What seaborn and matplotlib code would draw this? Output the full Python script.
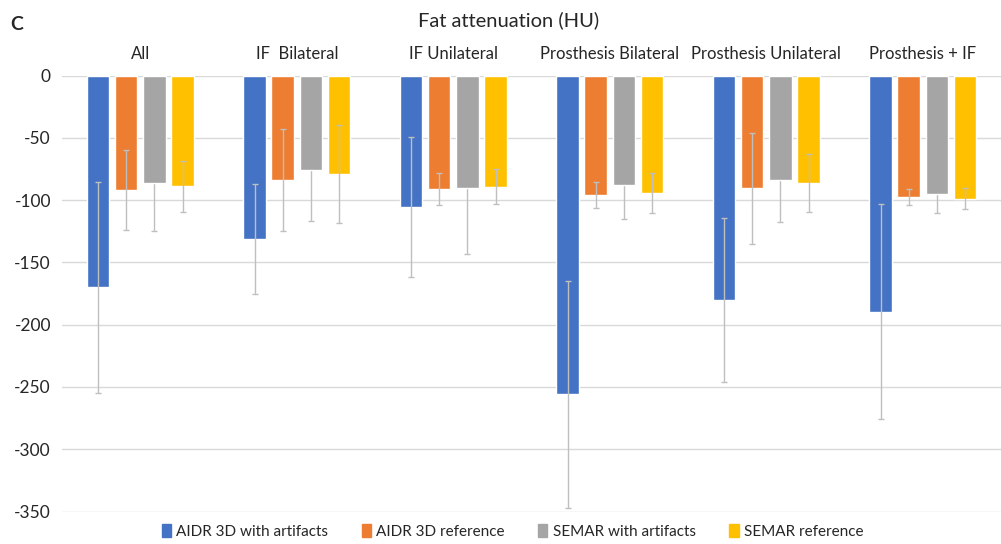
import numpy as np
import pandas as pd
import matplotlib
matplotlib.use("Agg")
import matplotlib.pyplot as plt
import seaborn as sns

categories = ["All", "IF  Bilateral", "IF Unilateral", "Prosthesis Bilateral",
              "Prosthesis Unilateral", "Prosthesis + IF"]
series = ["AIDR 3D with artifacts", "AIDR 3D reference", "SEMAR with artifacts", "SEMAR reference"]

aidr_art = [-170, -131, -105.5, -256, -180, -189.5]
aidr_ref = [-92, -84, -91, -96, -90.5, -97.3]
semar_art = [-86.5, -75.6, -90.5, -88, -83.6, -95.4]
semar_ref = [-89, -79.3, -89.3, -94.3, -86.3, -98.9]

aidr_art_sd = [84.5, 44, 56.5, 91, 65.7, 86]
aidr_ref_sd = [32, 40.7, 13, 10.3, 44.5, 6.3]
semar_art_sd = [38.5, 41.5, 52.5, 27, 34, 14.7]
semar_ref_sd = [20.7, 39.3, 14, 16.3, 23.4, 8.5]

yticks = [0, -50, -100, -150, -200, -250, -300, -350]

colors = ["#4472C4", "#ED7D31", "#A5A5A5", "#FFC000"]

means = [aidr_art, aidr_ref, semar_art, semar_ref]
sds = [aidr_art_sd, aidr_ref_sd, semar_art_sd, semar_ref_sd]

rows = []
for s, vals in zip(series, means):
    for c, v in zip(categories, vals):
        rows.append({"group": c, "series": s, "value": v})
df = pd.DataFrame(rows)

sns.set_style("white")
plt.rcParams["font.family"] = ["Lato", "DejaVu Sans"]

fig = plt.figure(figsize=(10.01, 5.44), dpi=100)
ax = fig.add_axes([0.062, 0.0596, 0.938, 0.8016])

sns.barplot(data=df, x="group", y="value", hue="series", order=categories,
            hue_order=series, palette=colors, width=0.72, gap=0.2,
            errorbar=None, saturation=1, ax=ax, legend=False, zorder=2)

for i, (cont, sd) in enumerate(zip(ax.containers, sds)):
    xs = [p.get_x() + p.get_width() / 2 for p in cont.patches]
    ys = [p.get_y() + p.get_height() for p in cont.patches]
    z = 1.5 if i == 2 else 3
    ax.errorbar(xs, ys, yerr=sd, fmt="none", ecolor="#BFBFBF", elinewidth=1.0,
                capsize=2.5, capthick=1.0, zorder=z)

ax.set_ylim(-350, 0)
ax.set_xlim(-0.5, 5.5)
ax.set_yticks(yticks)
ax.set_yticklabels([str(t) for t in yticks], fontsize=12.5)
ax.yaxis.grid(True, color="#D9D9D9", linewidth=1.0, zorder=0)
ax.set_axisbelow(True)
for sp in ax.spines.values():
    sp.set_visible(False)
ax.tick_params(axis="y", length=0, pad=8)
ax.xaxis.tick_top()
ax.tick_params(axis="x", length=0, pad=10, labelsize=12)
ax.set_xticks(range(len(categories)))
ax.set_xticklabels(categories)
ax.set_xlabel("")
ax.set_ylabel("")

fig.text(0.508, 0.962, "Fat attenuation (HU)", ha="center", va="center", fontsize=14.5)
fig.text(0.010, 0.955, "C", ha="left", va="center", fontsize=14, fontweight="bold")

handles = [plt.Rectangle((0, 0), 1, 1, color=c) for c in colors]
fig.legend(handles, series, loc="lower center", bbox_to_anchor=(0.512, -0.016), ncol=4,
           frameon=False, fontsize=11, handlelength=0.6, handleheight=0.9,
           handletextpad=0.35, columnspacing=2.2)

fig.savefig("out.png", dpi=100)
